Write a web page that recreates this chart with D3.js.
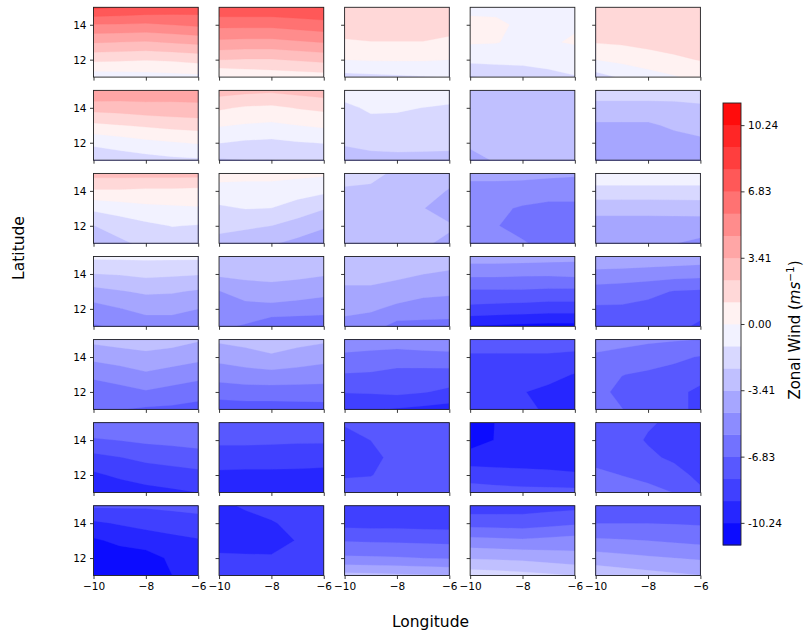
<!DOCTYPE html>
<html><head><meta charset="utf-8">
<script src="https://cdn.jsdelivr.net/npm/d3@7/dist/d3.min.js"></script>
<style>
body{margin:0;background:#fff}
svg{display:block}
text{font-family:"DejaVu Sans",sans-serif;fill:#000}
</style>
</head><body>
<svg id="chart" width="805" height="632"></svg>
<script>
// ---------- data ----------
const lons = [-10, -9, -8, -7, -6];
const lats = [15, 14, 13, 12, 11];            // grid rows, north to south
const levels = d3.range(21).map(i => -11.38 + i * 1.138);
const cbTickValues = [-10.24, -6.83, -3.41, 0.00, 3.41, 6.83, 10.24];
const cbTickLabels = ["-10.24", "-6.83", "-3.41", "0.00", "3.41", "6.83", "10.24"];
const xTickValues = [-10, -8, -6];
const yTickValues = [12, 14];

// zonal wind grids (m/s), rows = lats, cols = lons
const p00 = [[8.2,8.0,7.8,7.6,7.5],[5.6,5.6,5.5,5.7,5.9],[3.5,3.4,3.3,3.5,3.7],[1.4,1.3,1.2,1.3,1.5],[-0.7,-0.6,-0.5,-0.4,-0.3]];
const p01 = [[7.8,7.8,7.8,7.9,8.0],[6.0,6.0,6.0,6.2,6.4],[4.3,4.2,4.2,4.4,4.6],[2.3,2.2,2.2,2.4,2.6],[-0.1,0.2,0.4,0.5,0.6]];
const p02 = [[2.0,2.1,2.1,2.1,2.0],[1.7,1.8,1.8,1.8,1.6],[1.0,1.1,1.1,1.1,0.9],[0.0,0.1,0.1,0.1,0.0],[-1.5,-1.4,-1.3,-1.2,-1.1]];
const p03 = [[-0.3,-0.4,-0.5,-0.4,-0.3],[0.3,0.3,-0.3,-0.2,-0.1],[0.1,0.05,-0.3,-0.1,0.1],[-0.8,-0.8,-0.8,-0.7,-0.6],[-2.4,-2.0,-1.8,-1.5,-1.2]];
const p04 = [[2.1,2.1,2.1,2.2,2.2],[1.8,1.9,2.0,2.0,2.1],[1.2,1.3,1.5,1.7,1.8],[0.0,0.3,0.6,0.9,1.2],[-1.6,-1.0,-0.5,-0.1,0.3]];

const p10 = [[4.6,4.4,4.2,4.0,3.9],[2.7,2.8,3.0,3.1,3.2],[0.9,1.1,1.3,1.5,1.6],[-0.9,-0.6,-0.3,-0.1,0.1],[-2.0,-1.8,-1.6,-1.4,-1.3]];
const p11 = [[2.8,2.6,2.5,2.7,2.9],[1.3,1.0,0.9,1.2,1.4],[0.1,-0.1,-0.2,0.0,0.2],[-1.1,-1.3,-1.4,-1.2,-1.1],[-2.4,-2.3,-2.3,-2.2,-2.1]];
const p12 = [[-0.6,-0.7,-0.7,-0.6,-0.5],[-1.4,-0.95,-1.0,-1.15,-1.3],[-1.7,-1.5,-1.5,-1.6,-1.7],[-2.2,-2.0,-1.9,-1.95,-2.0],[-2.6,-2.6,-2.6,-2.6,-2.6]];
const p13 = [[-2.9,-2.9,-2.9,-2.9,-2.9],[-3.0,-3.0,-3.0,-3.0,-3.0],[-3.1,-3.1,-3.1,-3.1,-3.0],[-3.2,-3.2,-3.2,-3.1,-3.1],[-3.8,-3.3,-3.3,-3.2,-3.2]];
const p14 = [[-1.8,-1.8,-1.8,-1.9,-1.9],[-2.6,-2.6,-2.6,-2.5,-2.4],[-3.6,-3.6,-3.6,-3.2,-2.9],[-4.1,-4.1,-4.0,-3.9,-3.7],[-4.6,-4.4,-4.3,-4.2,-4.1]];

const p20 = [[2.7,2.7,2.7,2.7,2.7],[1.0,1.0,0.9,0.9,0.8],[-0.9,-0.6,-0.3,-0.2,-0.1],[-2.3,-1.8,-1.4,-1.1,-1.2],[-3.0,-2.5,-2.0,-1.8,-1.9]];
const p21 = [[0.5,0.4,0.4,0.3,0.2],[-0.5,-0.5,-0.5,-0.7,-0.9],[-1.3,-1.1,-1.15,-1.6,-2.2],[-2.0,-2.1,-2.28,-2.8,-3.3],[-2.6,-2.9,-3.3,-3.7,-4.0]];
const p22 = [[-1.9,-2.1,-2.4,-2.7,-2.9],[-2.4,-2.4,-2.6,-2.9,-3.5],[-2.9,-2.9,-3.0,-3.38,-3.9],[-3.0,-3.0,-3.1,-3.38,-3.3],[-3.1,-3.1,-3.2,-3.3,-3.6]];
const p23 = [[-4.2,-4.2,-4.2,-4.3,-4.4],[-5.0,-5.0,-5.1,-5.2,-5.2],[-5.4,-5.5,-5.8,-6.0,-6.0],[-5.5,-5.65,-6.0,-6.3,-6.3],[-5.4,-5.5,-5.6,-6.0,-6.2]];
const p24 = [[-0.7,-0.7,-0.7,-0.7,-0.7],[-1.35,-1.35,-1.35,-1.35,-1.35],[-3.2,-3.2,-3.2,-3.15,-3.1],[-3.7,-3.7,-3.7,-3.75,-3.8],[-4.2,-4.2,-4.3,-4.5,-4.9]];

const p30 = [[-0.9,-0.9,-0.9,-0.9,-0.9],[-2.3,-2.2,-2.0,-2.1,-2.2],[-3.8,-3.5,-3.25,-3.3,-3.55],[-5.0,-4.6,-4.2,-4.2,-4.55],[-5.8,-5.5,-5.2,-5.2,-5.5]];
const p31 = [[-2.6,-2.5,-2.4,-2.5,-2.6],[-3.2,-3.1,-3.0,-3.1,-3.3],[-4.6,-4.0,-3.9,-4.1,-4.3],[-5.2,-5.0,-4.9,-5.0,-5.1],[-5.5,-5.8,-6.6,-6.7,-6.8]];
const p32 = [[-2.3,-2.3,-2.4,-2.6,-2.7],[-2.9,-2.9,-3.1,-3.4,-3.6],[-3.7,-3.7,-4.0,-4.3,-4.4],[-4.3,-4.4,-4.8,-5.0,-5.0],[-4.9,-5.2,-6.1,-6.1,-6.2]];
const p33 = [[-4.0,-4.0,-4.0,-4.1,-4.2],[-5.4,-5.4,-5.5,-5.5,-5.4],[-7.0,-7.0,-7.0,-7.1,-7.1],[-8.3,-8.4,-8.5,-8.6,-8.6],[-10.3,-10.4,-10.5,-10.6,-10.6]];
const p34 = [[-3.6,-3.6,-3.7,-3.8,-3.9],[-4.9,-5.0,-5.1,-5.2,-5.3],[-6.2,-6.3,-6.5,-6.9,-7.0],[-7.0,-7.0,-7.2,-7.4,-7.5],[-7.4,-7.5,-7.6,-7.6,-8.2]];

const p40 = [[-3.1,-2.9,-2.7,-2.9,-3.3],[-4.25,-4.0,-3.8,-4.0,-4.25],[-5.45,-5.1,-4.7,-5.0,-5.3],[-6.3,-6.1,-5.8,-6.1,-6.4],[-6.7,-6.8,-7.0,-7.05,-7.2]];
const p41 = [[-3.2,-3.0,-2.7,-3.0,-3.2],[-4.2,-3.9,-3.6,-3.9,-4.2],[-5.2,-5.0,-4.9,-5.0,-5.1],[-6.3,-6.2,-6.2,-6.2,-6.2],[-7.5,-7.4,-7.4,-7.35,-7.3]];
const p42 = [[-5.1,-5.0,-5.1,-5.0,-5.0],[-5.9,-6.1,-6.2,-6.1,-6.0],[-6.9,-6.95,-7.2,-7.25,-7.3],[-7.9,-7.85,-7.7,-7.9,-8.2],[-8.9,-9.0,-9.2,-9.4,-9.6]];
const p43 = [[-7.26,-7.26,-7.26,-7.26,-7.36],[-8.16,-8.16,-8.16,-8.16,-8.26],[-8.36,-8.46,-8.56,-8.76,-9.16],[-8.46,-8.66,-9.06,-9.36,-9.56],[-8.36,-8.56,-8.86,-9.26,-9.46]];
const p44 = [[-5.1,-5.3,-5.5,-5.6,-5.7],[-5.9,-6.1,-6.3,-6.6,-6.9],[-6.3,-6.8,-7.0,-7.2,-7.6],[-6.5,-7.1,-7.3,-7.7,-8.2],[-6.5,-6.8,-7.4,-7.7,-8.2]];

const p50 = [[-5.9,-5.85,-5.8,-5.75,-5.7],[-6.95,-6.8,-6.6,-6.5,-6.4],[-8.3,-8.0,-7.7,-7.5,-7.3],[-9.3,-8.9,-8.6,-8.45,-8.3],[-10.0,-9.8,-9.5,-9.3,-9.1]];
const p51 = [[-7.0,-7.0,-7.0,-7.1,-7.1],[-7.7,-7.7,-7.75,-7.8,-7.8],[-8.6,-8.6,-8.6,-8.65,-8.7],[-9.3,-9.35,-9.35,-9.35,-9.4],[-9.8,-9.9,-9.9,-9.9,-9.9]];
const p52 = [[-7.91,-7.46,-7.36,-7.26,-7.26],[-8.16,-7.96,-7.46,-7.36,-7.36],[-8.36,-8.16,-7.76,-7.46,-7.36],[-8.06,-8.01,-7.56,-7.46,-7.36],[-7.56,-7.46,-7.36,-7.26,-7.26]];
const p53 = [[-10.8,-10.2,-9.9,-9.8,-9.7],[-10.6,-10.2,-9.9,-9.8,-9.7],[-9.9,-9.9,-9.8,-9.7,-9.6],[-8.3,-8.5,-8.7,-8.85,-9.0],[-7.6,-7.6,-7.6,-7.6,-7.6]];
const p54 = [[-7.46,-7.56,-7.86,-8.16,-8.26],[-7.46,-7.56,-8.06,-8.26,-8.36],[-7.36,-7.46,-7.76,-8.16,-8.26],[-6.46,-6.86,-7.16,-7.56,-8.26],[-5.56,-6.06,-6.46,-6.86,-7.76]];

const p60 = [[-7.8,-7.8,-7.8,-7.7,-7.6],[-9.3,-9.0,-8.8,-8.6,-8.4],[-10.4,-10.0,-9.6,-9.4,-9.2],[-11.0,-10.8,-10.8,-10.0,-9.7],[-11.3,-11.2,-11.0,-10.25,-10.0]];
const p61 = [[-9.3,-9.0,-8.9,-8.8,-8.8],[-9.5,-9.4,-9.15,-8.95,-8.9],[-9.6,-9.6,-9.5,-9.05,-8.9],[-8.9,-8.95,-9.0,-8.9,-8.8],[-8.6,-8.6,-8.6,-8.6,-8.6]];
const p62 = [[-8.8,-8.8,-8.8,-8.85,-8.9],[-8.35,-8.4,-8.4,-8.45,-8.5],[-6.9,-6.95,-7.0,-7.05,-7.1],[-5.5,-5.55,-5.6,-5.7,-5.8],[-3.0,-3.1,-3.2,-3.3,-3.4]];
const p63 = [[-8.6,-8.55,-8.5,-8.4,-8.3],[-7.3,-7.35,-7.4,-7.2,-7.0],[-5.3,-5.4,-5.5,-5.35,-5.2],[-3.5,-3.6,-3.7,-3.9,-4.1],[-1.65,-1.75,-1.9,-2.1,-2.3]];
const p64 = [[-7.8,-7.8,-7.8,-7.8,-7.8],[-6.85,-6.85,-6.85,-6.9,-6.95],[-5.5,-5.6,-5.7,-5.85,-6.0],[-4.0,-4.2,-4.4,-4.55,-4.7],[-2.6,-2.8,-3.0,-3.2,-3.4]];

const panelGrid = [
  [p00, p01, p02, p03, p04],
  [p10, p11, p12, p13, p14],
  [p20, p21, p22, p23, p24],
  [p30, p31, p32, p33, p34],
  [p40, p41, p42, p43, p44],
  [p50, p51, p52, p53, p54],
  [p60, p61, p62, p63, p64]
];

// ---------- layout ----------
const nRows = 7;
const left0 = 93.5, colStep = 125.55, pw = 104.7;
const top0 = 7.3, rowStep = 83.07, ph = 69.8;
const cb = {x: 723, y0: 103, y1: 545, w: 18};

function bwr(t) {
  const i = Math.min(255, Math.max(0, Math.floor(t * 256)));
  const x = i / 255;
  let r, g, b;
  if (x < 0.5) { r = 2 * x; g = 2 * x; b = 1; }
  else { r = 1; g = 2 * (1 - x); b = 2 * (1 - x); }
  return d3.rgb(Math.round(r * 255), Math.round(g * 255), Math.round(b * 255)).toString();
}
const nb = levels.length - 1;
const bandColor = d3.range(nb).map(k => bwr((k + 0.5) / nb));

const svg = d3.select("#chart");
const defs = svg.append("defs");
const contourGen = d3.contours().size([lons.length, lats.length]).thresholds(levels);

panelGrid.forEach((rowArr, r) => {
  rowArr.forEach((grid, c) => {
    const x0 = left0 + c * colStep, y0 = top0 + r * rowStep;
    const xs = d3.scaleLinear().domain([-10, -6]).range([x0, x0 + pw]);
    const ys = d3.scaleLinear().domain([11, 15]).range([y0 + ph, y0]);
    const id = `clip-${r}-${c}`;
    defs.append("clipPath").attr("id", id)
      .append("rect").attr("x", x0).attr("y", y0).attr("width", pw).attr("height", ph);
    const g = svg.append("g");
    const proj = d3.geoTransform({
      point(px, py) {
        const lon = lons[0] + (px - 0.5) * (lons[1] - lons[0]);
        const lat = lats[0] + (py - 0.5) * (lats[1] - lats[0]);
        this.stream.point(xs(lon), ys(lat));
      }
    });
    const path = d3.geoPath(proj);
    const cont = contourGen(grid.flat());
    g.append("g").attr("clip-path", `url(#${id})`)
      .selectAll("path").data(cont.slice(0, nb)).join("path")
      .attr("d", path)
      .attr("fill", (d, i) => bandColor[i])
      .attr("stroke", (d, i) => bandColor[i])
      .attr("stroke-width", 0.3);

    const xAxis = d3.axisBottom(xs).tickValues(xTickValues).tickSize(3.5).tickPadding(3.5)
      .tickFormat(r === nRows - 1 ? (d => String(d).replace("-", "\u2212")) : () => "");
    const yAxis = d3.axisLeft(ys).tickValues(yTickValues).tickSize(3.5).tickPadding(3.5)
      .tickFormat(c === 0 ? d3.format("") : () => "");
    const gx = g.append("g").attr("transform", `translate(0,${y0 + ph})`).call(xAxis);
    const gy = g.append("g").attr("transform", `translate(${x0},0)`).call(yAxis);
    [gx, gy].forEach(a => {
      a.select(".domain").remove();
      a.selectAll("line").attr("stroke", "#222").attr("stroke-width", 0.9);
      a.selectAll("text").attr("font-size", 10.5).attr("font-family", "DejaVu Sans").attr("fill", "#111");
    });
    g.append("rect").attr("x", x0).attr("y", y0).attr("width", pw).attr("height", ph)
      .attr("fill", "none").attr("stroke", "#222").attr("stroke-width", 0.9);
  });
});

// ---------- colorbar ----------
const cbScale = d3.scaleLinear().domain([levels[0], levels[nb]]).range([cb.y1, cb.y0]);
const cbg = svg.append("g");
cbg.selectAll("rect.band").data(d3.range(nb)).join("rect")
  .attr("class", "band")
  .attr("x", cb.x).attr("width", cb.w)
  .attr("y", k => cbScale(levels[k + 1]))
  .attr("height", k => cbScale(levels[k]) - cbScale(levels[k + 1]) + 0.4)
  .attr("fill", k => bandColor[k]);
const cbAxis = d3.axisRight(cbScale).tickValues(cbTickValues).tickSize(3.5).tickPadding(3.5)
  .tickFormat((d, i) => cbTickLabels[i]);
const cba = cbg.append("g").attr("transform", `translate(${cb.x + cb.w},0)`).call(cbAxis);
cba.select(".domain").remove();
cba.selectAll("line").attr("stroke", "#222").attr("stroke-width", 0.9);
cba.selectAll("text").attr("font-size", 10.5).attr("font-family", "DejaVu Sans").attr("fill", "#111");
cbg.append("rect").attr("x", cb.x).attr("y", cb.y0).attr("width", cb.w).attr("height", cb.y1 - cb.y0)
  .attr("fill", "none").attr("stroke", "#222").attr("stroke-width", 0.9);

// ---------- labels ----------
svg.append("text").attr("x", 430.5).attr("y", 626.5).attr("text-anchor", "middle")
  .attr("font-size", 15.5).text("Longitude");
svg.append("text").attr("transform", "translate(23.5,248) rotate(-90)").attr("text-anchor", "middle")
  .attr("font-size", 15.5).text("Latitude");
const zl = svg.append("text").attr("transform", "translate(799.5,330) rotate(-90)").attr("text-anchor", "middle")
  .attr("font-size", 15);
zl.append("tspan").text("Zonal Wind (");
zl.append("tspan").attr("font-style", "italic").text("ms");
zl.append("tspan").attr("font-size", 10.5).attr("dy", -6).text("\u22121");
zl.append("tspan").attr("dy", 6).text(")");
</script>
</body></html>
